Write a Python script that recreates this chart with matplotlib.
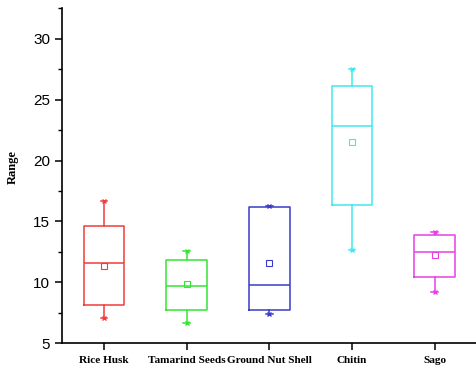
import matplotlib.pyplot as plt

categories = ["Rice Husk", "Tamarind Seeds", "Ground Nut Shell", "Chitin", "Sago"]
whisk_low = [7.05, 6.66, 7.4, 12.62, 9.23]
q1 = [8.14, 7.73, 7.73, 16.34, 10.43]
median = [11.56, 9.70, 9.78, 22.81, 12.48]
mean = [11.34, 9.86, 11.56, 21.56, 12.24]
q3 = [14.59, 11.85, 16.2, 26.11, 13.9]
whisk_high = [16.69, 12.59, 16.3, 27.48, 14.15]
colors = ["#f03c3c", "#33e633", "#3a3ac8", "#3ee8ee", "#e63ee6"]

fig = plt.figure(figsize=(4.76, 3.72), dpi=100)
ax = fig.add_axes([0.13, 0.077, 0.87, 0.901])

for i, name in enumerate(categories):
    stats = [{
        "label": name,
        "whislo": whisk_low[i],
        "q1": q1[i],
        "med": median[i],
        "mean": mean[i],
        "q3": q3[i],
        "whishi": whisk_high[i],
        "fliers": [],
    }]
    c = colors[i]
    ax.bxp(
        stats, positions=[i + 1], widths=0.49, showmeans=True,
        boxprops=dict(color=c, lw=1.1),
        medianprops=dict(color=c, lw=1.1),
        whiskerprops=dict(color=c, lw=1.1),
        capprops=dict(color=c, lw=1.1),
        capwidths=0.08,
        meanprops=dict(marker="s", markersize=3.8, markerfacecolor="none",
                       markeredgecolor=c, color=c, markeredgewidth=0.8),
    )
    ax.plot([i + 1, i + 1], [whisk_low[i], whisk_high[i]], ls="none",
            marker="x", markersize=3.5, color=c, mew=1.0)

ax.set_xlim(0.49, 5.5)
ax.set_ylim(5, 32.5)
ax.set_yticks([5, 10, 15, 20, 25, 30])
ax.set_yticks([7.5, 12.5, 17.5, 22.5, 27.5, 32.5], minor=True)
ax.set_xticks(range(1, 6))
ax.set_xticklabels(categories, fontfamily="Liberation Serif",
                   fontweight="bold", fontsize=8.1)
for lab in ax.get_yticklabels():
    lab.set_fontfamily("Liberation Sans")
    lab.set_fontsize(11)

ax.set_ylabel("Range", fontfamily="Liberation Serif", fontweight="bold",
              fontsize=9, labelpad=9)
ax.yaxis.set_label_coords(-0.105, 0.525)

ax.spines["top"].set_visible(False)
ax.spines["right"].set_visible(False)
ax.spines["left"].set_linewidth(1.2)
ax.spines["bottom"].set_linewidth(1.2)
ax.tick_params(axis="y", which="major", length=5, width=1.1, direction="out")
ax.tick_params(axis="y", which="minor", length=3, width=1.0, direction="out")
ax.tick_params(axis="x", length=5, width=1.1, direction="out", pad=4)

fig.savefig("out.png", dpi=100)
